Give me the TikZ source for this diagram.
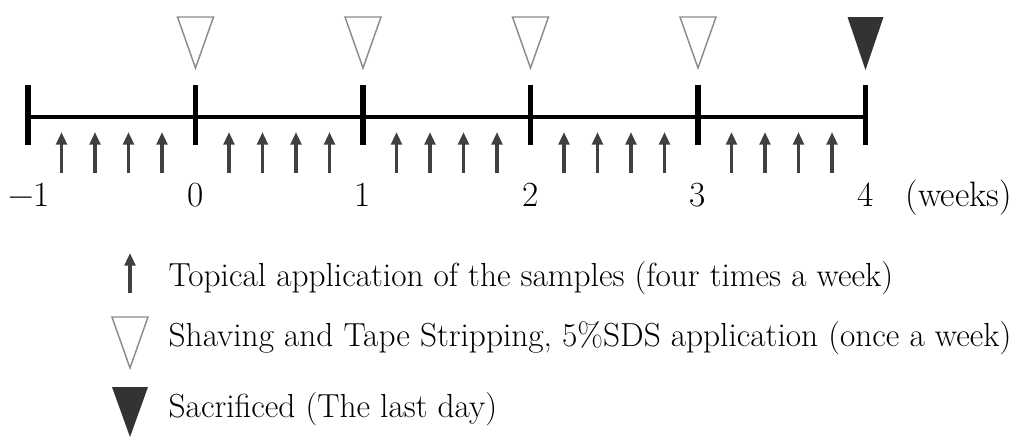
\documentclass[tikz,border=0pt]{standalone}
\usepackage{fontspec}
\usetikzlibrary{arrows.meta}
\definecolor{applgray}{HTML}{404040}
\definecolor{shavegray}{HTML}{8C8C8C}
\definecolor{sacgray}{HTML}{333333}
\begin{document}
\begin{tikzpicture}[x=0.75pt,y=-0.75pt,
  appl/.style={applgray, line width=2.5pt, -{Triangle[width=8pt,length=9.5pt]}},
  weektick/.style={line width=4pt},
  shave/.style={shavegray, line width=1.1pt, line join=miter},
  sac/.style={fill=sacgray},
  weeklbl/.style={font=\fontsize{26.5}{30}\selectfont, anchor=base},
  legendtxt/.style={font=\fontsize{25}{30}\selectfont, anchor=base west}]
\useasboundingbox (0,0) rectangle (1019,437);

% time axis
\coordinate (wm1) at (28,117);
\coordinate (w0) at (195.5,117);
\coordinate (w1) at (363,117);
\coordinate (w2) at (530.5,117);
\coordinate (w3) at (698,117);
\coordinate (w4) at (865.5,117);
\draw[line width=3.4pt] (wm1) -- (w4);

\draw[weektick] (wm1) ++(0,-32) -- ++(0,60);
\draw[weektick] (w0) ++(0,-32) -- ++(0,60);
\draw[weektick] (w1) ++(0,-32) -- ++(0,60);
\draw[weektick] (w2) ++(0,-32) -- ++(0,60);
\draw[weektick] (w3) ++(0,-32) -- ++(0,60);
\draw[weektick] (w4) ++(0,-32) -- ++(0,60);

\node[weeklbl] (lm1) at (29,206) {−1};
\node[weeklbl] (l0) at (195.5,206) {0};
\node[weeklbl] (l1) at (363,206) {1};
\node[weeklbl] (l2) at (530.5,206) {2};
\node[weeklbl] (l3) at (698,206) {3};
\node[weeklbl] (l4) at (865.5,206) {4};
\node[weeklbl, anchor=base west] (unit) at (901,206) {(weeks)};

% applications, four per week
\foreach \w in {wm1,w0,w1,w2,w3}
  \foreach \k in {1,2,3,4}
    \draw[appl] (\w) ++(33.5*\k,56) -- ++(0,-41);

% shaving and tape stripping
\draw[shave] (w0) ++(-18,-100) -- ++(36,0) -- ++(-18,51) -- cycle;
\draw[shave] (w1) ++(-18,-100) -- ++(36,0) -- ++(-18,51) -- cycle;
\draw[shave] (w2) ++(-18,-100) -- ++(36,0) -- ++(-18,51) -- cycle;
\draw[shave] (w3) ++(-18,-100) -- ++(36,0) -- ++(-18,51) -- cycle;
\fill[sac] (w4) ++(-18,-100) -- ++(36,0) -- ++(-18,53) -- cycle;

% legend
\coordinate (k1) at (130,293);
\coordinate (k2) at (130,317);
\coordinate (k3) at (130,387);
\draw[appl] (k1) -- ++(0,-40);
\draw[shave] (k2) ++(-18,0) -- ++(36,0) -- ++(-18,51) -- cycle;
\fill[sac] (k3) ++(-18,0) -- ++(36,0) -- ++(-18,50) -- cycle;
\node[legendtxt] (t1) at (164,286) {Topical application of the samples (four times a week)};
\node[legendtxt] (t2) at (164,346) {Shaving and Tape Stripping, 5\%SDS application (once a week)};
\node[legendtxt] (t3) at (164,417) {Sacrificed (The last day)};
\end{tikzpicture}
\end{document}
